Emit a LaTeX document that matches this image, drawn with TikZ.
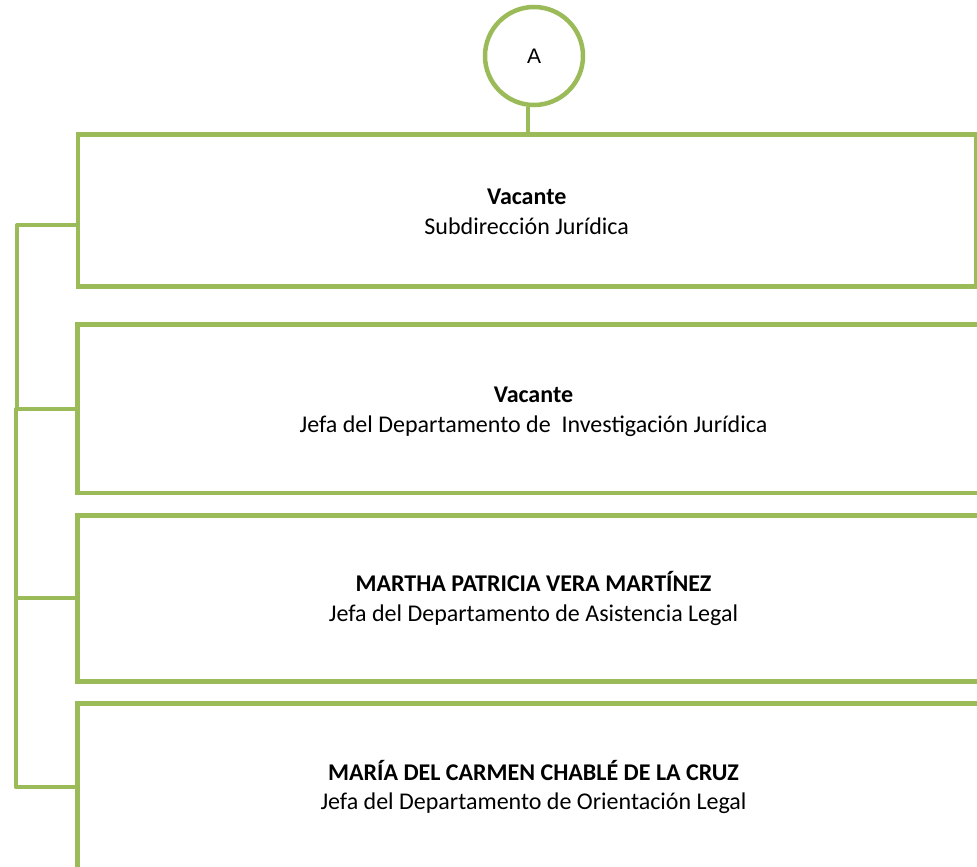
\documentclass[tikz,border=0pt]{standalone}
\usepackage{fontspec}
\setmainfont{Carlito}
\newfontfamily\arialfont{Liberation Sans}
\definecolor{ogreen}{HTML}{9BBB59}
\tikzset{
  x=1pt,y=1pt,
  orgbox/.style={draw=ogreen,line width=4.5pt,rectangle,inner sep=0pt},
  txt/.style={align=center,inner sep=0pt,font=\fontsize{24}{29.5}\selectfont},
  conn/.style={draw=ogreen,line width=4pt},
  circ/.style={draw=ogreen,line width=4.5pt,circle,minimum size=98pt,inner sep=0pt,
    font=\arialfont\fontsize{21}{25}\selectfont}
}
\begin{document}
\begin{tikzpicture}
\clip (0,0) rectangle (977,-867);
\fill[white] (0,0) rectangle (977,-867);
\node[circ] (A) at (534,-56) {A};
\node[orgbox,minimum width=898pt,minimum height=152pt] (b1) at (526.75,-210.5) {};
\node[orgbox,minimum width=912pt,minimum height=168.5pt] (b2) at (533.5,-408.75) {};
\node[orgbox,minimum width=912pt,minimum height=166pt] (b3) at (533.5,-598.5) {};
\node[orgbox,minimum width=912pt,minimum height=167pt] (b4) at (533.5,-787) {};
\node[txt] (t1) at ([yshift=-1.5pt]b1.center) {\textbf{Vacante}\\Subdirección Jurídica};
\node[txt] (t2) at ([yshift=-3pt]b2.center) {\textbf{Vacante}\\Jefa del Departamento de\ \ Investigación Jurídica};
\node[txt] (t3) at (b3.center) {\textbf{MARTHA PATRICIA VERA MARTÍNEZ}\\Jefa del Departamento de Asistencia Legal};
\node[txt] (t4) at (b4.center) {\textbf{MARÍA DEL CARMEN CHABLÉ DE LA CRUZ}\\Jefa del Departamento de Orientación Legal};
\draw[conn] ([xshift=-6pt]A.south) -- ([xshift=-6pt]A.south |- b1.north);
\coordinate (j1) at (17,-225);
\coordinate (j2) at (16,-409);
\coordinate (j3) at (15.5,-598);
\coordinate (j4) at (16,-787);
\draw[conn,line join=round] (j1 -| b1.west) -- (j1) -- (j1 |- j2);
\draw[conn,line join=round] (j2 -| b2.west) -- (j2) -- (j2 |- j3);
\draw[conn,line join=round] (j3 -| b3.west) -- (j3) -- (j3 |- j4) -- (b4.west);
\end{tikzpicture}
\end{document}
